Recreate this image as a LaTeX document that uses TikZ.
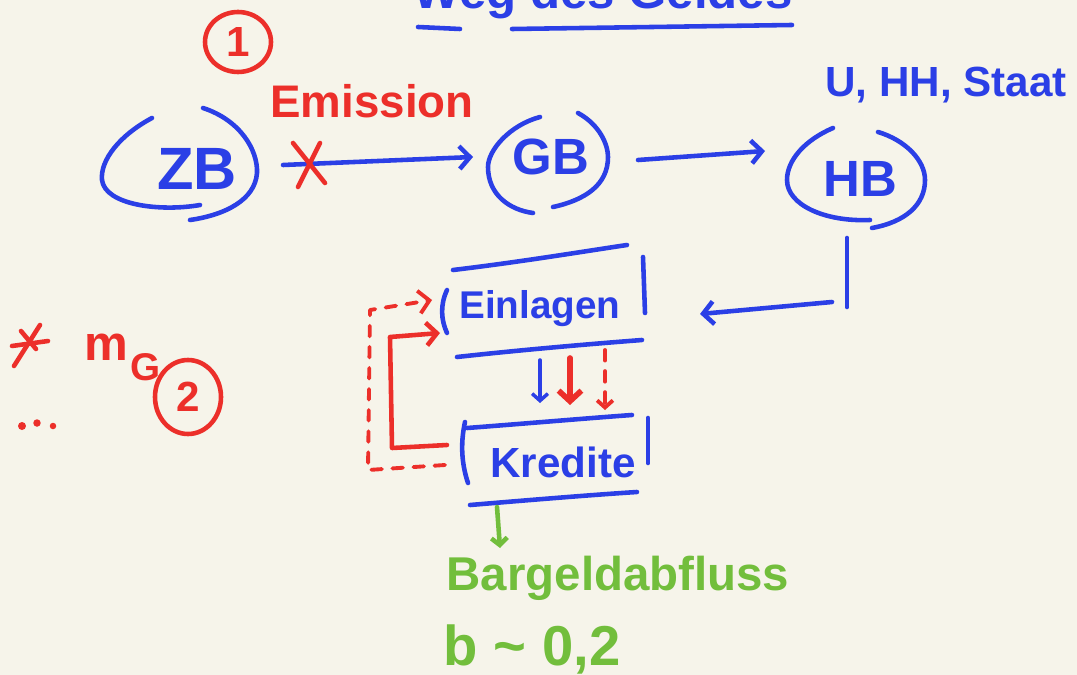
\documentclass[tikz,border=0pt]{standalone}
\usepackage{fontspec}
\setmainfont{Liberation Sans}
\usetikzlibrary{arrows.meta}
\definecolor{bg}{HTML}{F6F4EA}
\definecolor{pblue}{HTML}{2B3FE6}
\definecolor{pred}{HTML}{EC2F2A}
\definecolor{pgreen}{HTML}{72BE3C}
\newcommand\fsz[1]{\fontsize{#1}{#1}\selectfont\bfseries}
\begin{document}
\begin{tikzpicture}[x=0.02cm,y=-0.02cm,
  pen/.style={line width=2.6pt,line cap=round,line join=round},
  bl/.style={pen,draw=pblue},
  rd/.style={pen,draw=pred},
  gr/.style={pen,draw=pgreen},
  dsh/.style={dash pattern=on 6pt off 6pt},
  tip/.style={-{Straight Barb[length=6pt,width=13pt]}},
  smalltip/.style={-{Straight Barb[length=4pt,width=9pt]}},
  bt/.style={text=pblue,inner sep=0pt},
  rt/.style={text=pred,inner sep=0pt},
  gt/.style={text=pgreen,inner sep=0pt}]
\fill[bg] (0,0) rectangle (1077,675);
\useasboundingbox (0,0) rectangle (1077,675);

% title (cut at the top, as in the reference)
\node[bt,anchor=base,font=\fsz{28}] (title) at (603,9) {Weg des Geldes};
\draw[bl] (418,27) -- (460,29);
\draw[bl] (512,29) -- (792,25);

% step 1
\node[rt,font=\fsz{24}] (one) at (238,42) {1};
\draw[rd] (one) ellipse [x radius=0.66cm, y radius=0.6cm];
\node[rt,anchor=base,font=\fsz{26}] (emission) at (372,118) {Emission};
\node[bt,anchor=base,font=\fsz{24}] (uhh) at (946,97) {U, HH, Staat};

% banks
\node[bt,anchor=base,font=\fsz{34}] (ZB) at (197,190) {ZB};
\node[bt,anchor=base,font=\fsz{29}] (GB) at (551,175) {GB};
\node[bt,anchor=base,font=\fsz{29}] (HB) at (860,197) {HB};

\draw[bl] (152,118) .. controls (120,135) and (100,160) .. (102,180) .. controls (105,205) and (160,212) .. (200,205);
\draw[bl] (203,108) .. controls (240,120) and (258,150) .. (257,173) .. controls (255,200) and (225,215) .. (190,220);
\draw[bl] (540,117) .. controls (510,125) and (488,150) .. (488,167) .. controls (488,195) and (510,210) .. (533,213);
\draw[bl] (578,113) .. controls (600,125) and (608,145) .. (608,157) .. controls (608,185) and (585,200) .. (553,207);
\draw[bl] (833,128) .. controls (805,140) and (787,160) .. (787,180) .. controls (787,205) and (825,222) .. (870,220);
\draw[bl] (878,132) .. controls (905,140) and (925,160) .. (925,180) .. controls (925,205) and (905,222) .. (872,228);

\coordinate (zbout) at (283,165);
\coordinate (gbin) at (473,157);
\coordinate (gbout) at (638,160);
\coordinate (hbin) at (765,151);
\draw[bl,tip] (zbout) -- (gbin);
\draw[bl,tip] (gbout) -- (hbin);
\draw[rd] (293,143) -- (325,183);
\draw[rd] (320,143) -- (298,187);

% HB to Einlagen
\coordinate (hbdown) at (847,238);
\coordinate (hbcorner) at (847,307);
\coordinate (hbturn) at (832,302);
\coordinate (einin) at (700,314);
\draw[bl] (hbdown) -- (hbcorner);
\draw[bl,tip] (hbturn) -- (einin);

% Einlagen box
\node[bt,anchor=base,font=\fsz{22}] (E) at (540,318) {Einlagen};
\draw[bl] (453,270) .. controls (520,262) and (580,252) .. (627,245);
\draw[bl] (447,290) .. controls (440,305) and (441,320) .. (447,333);
\draw[bl] (643,257) -- (645,313);
\draw[bl] (457,357) .. controls (520,350) and (590,344) .. (642,340);

% Kredite box
\node[bt,anchor=base,font=\fsz{24}] (K) at (563,477) {Kredite};
\draw[bl] (467,428) .. controls (520,424) and (590,418) .. (632,415);
\draw[bl] (465,422) .. controls (460,445) and (462,465) .. (468,483);
\draw[bl] (648,418) -- (648,463);
\draw[bl] (470,505) .. controls (530,500) and (590,495) .. (637,492);

% arrows between boxes
\coordinate (b1) at (540,360); \coordinate (b2) at (540,403);
\coordinate (r1) at (570,358); \coordinate (r2) at (570,405);
\coordinate (d1) at (605,350); \coordinate (d2) at (605,410);
\draw[bl,line width=2pt,smalltip] (b1) -- (b2);
\draw[rd,line width=3.2pt,tip] (r1) -- (r2);
\draw[rd,line width=2.2pt,dsh,smalltip] (d1) -- (d2);

% red loops
\coordinate (ks) at (447,445); \coordinate (ee) at (440,333);
\coordinate (ks2) at (445,465); \coordinate (ee2) at (432,300);
\draw[rd,tip] (ks) -- (392,448) -- (390,337) -- (ee);
\draw[rd,line width=2.2pt,dsh,tip] (ks2) -- (368,470) -- (370,310) -- (ee2);

% green
\coordinate (g1) at (497,507); \coordinate (g2) at (500,548);
\draw[gr,smalltip] (g1) -- (g2);
\node[gt,anchor=base,font=\fsz{27}] (bar) at (618,590) {Bargeldabfluss};
\node[gt,anchor=base,font=\fsz{32}] (b) at (532,665) {b \textasciitilde{} 0,2};

% left side
\draw[rd] (40,325) -- (14,366);
\draw[rd] (12,346) -- (48,341);
\draw[rd] (21,331) -- (36,349);
\node[rt,anchor=base,font=\fsz{28}] (m) at (106,360) {m};
\node[rt,anchor=base,font=\fsz{22}] (G) at (146,380) {G};
\node[rt,font=\fsz{24}] (two) at (188,397) {2};
\draw[rd] (two) ellipse [x radius=0.66cm, y radius=0.74cm];
\fill[pred] (22,426) circle (0.08cm);
\fill[pred] (37,423) circle (0.075cm);
\fill[pred] (53,426) circle (0.065cm);
\end{tikzpicture}
\end{document}
